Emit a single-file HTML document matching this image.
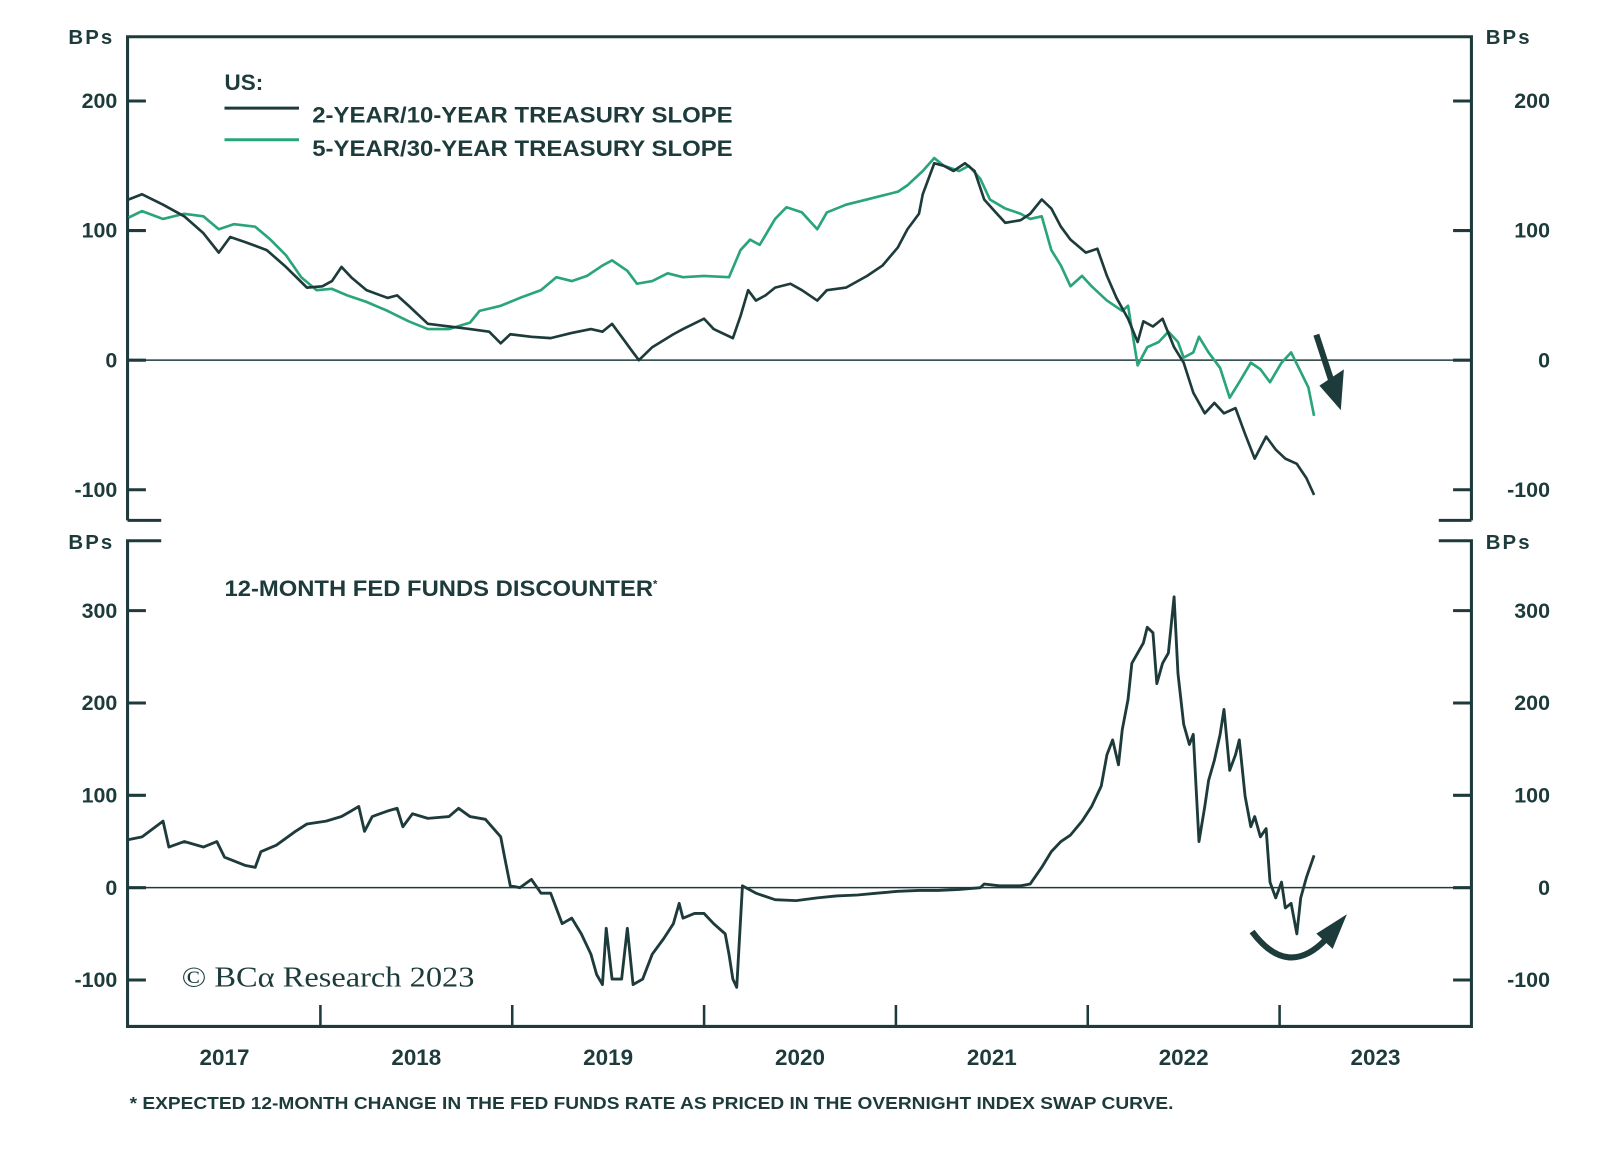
<!DOCTYPE html>
<html><head><meta charset="utf-8"><style>
html,body{margin:0;padding:0;background:#fff;}
svg{display:block;font-family:"Liberation Sans",sans-serif;}
</style></head><body>
<svg id="chart" width="1600" height="1156" viewBox="0 0 1568 1133" preserveAspectRatio="none" xmlns="http://www.w3.org/2000/svg">
<g id="frame" stroke="#1e3b3b" stroke-width="3" fill="none">
<path d="M125,510 V36 H1442 V510" />
<path d="M125,510 H158 M1410,510 H1442" />
<path d="M158,530 H125 V1006 H1442 V530 H1410" />
</g>
<g id="texts" fill="#1e3b3b" font-weight="bold" font-size="20">
<text x="67" y="43" textLength="43">BPs</text>
<text x="1456" y="43" textLength="43">BPs</text>
<text x="67" y="538" textLength="43">BPs</text>
<text x="1456" y="538" textLength="43">BPs</text>
<text x="220" y="88" font-size="22" textLength="38">US:</text>
<line x1="220" y1="106" x2="293" y2="106" stroke="#1e3b3b" stroke-width="3"/>
<text x="306" y="120" font-size="22" textLength="412" lengthAdjust="spacingAndGlyphs">2-YEAR/10-YEAR TREASURY SLOPE</text>
<line x1="220" y1="137" x2="293" y2="137" stroke="#2aa57a" stroke-width="3"/>
<text x="306" y="153" font-size="22" textLength="412" lengthAdjust="spacingAndGlyphs">5-YEAR/30-YEAR TREASURY SLOPE</text>
<text x="220" y="584" font-size="22"><tspan textLength="420" lengthAdjust="spacingAndGlyphs">12-MONTH FED FUNDS DISCOUNTER</tspan><tspan font-size="11" dy="-8">*</tspan></text>
<text x="178" y="967" font-family="Liberation Serif" font-weight="normal" font-size="28" textLength="287" lengthAdjust="spacingAndGlyphs">© BCα Research 2023</text>
<text x="127" y="1087" font-size="17" textLength="1023" lengthAdjust="spacingAndGlyphs">* EXPECTED 12-MONTH CHANGE IN THE FED FUNDS RATE AS PRICED IN THE OVERNIGHT INDEX SWAP CURVE.</text>
</g>
<g id="axes"></g>
<g id="series"></g>
<g id="annotations" fill="#1e3b3b" stroke="#1e3b3b">
<path d="M1290,328 L1305,374" stroke-width="6" fill="none"/>
<path d="M1293,378 L1314,402 L1317,362 Z" stroke="none"/>
<path d="M1227,913 Q1262,960 1300,920" stroke-width="6" fill="none"/>
<path d="M1290,915 L1320,896 L1306,930 Z" stroke="none"/>
</g>
</svg>
<script>
const dates2s10s=[0,.07,.18,.29,.39,.47,.53,.61,.72,.82,.93,1.01,1.06,1.11,1.16,1.24,1.35,1.40,1.46,1.56,1.67,1.78,1.88,1.94,1.99,2.10,2.20,2.31,2.41,2.47,2.52,2.57,2.63,2.66,2.73,2.84,2.89,3.00,3.05,3.15,3.19,3.23,3.27,3.32,3.37,3.45,3.51,3.59,3.64,3.74,3.85,3.93,4.01,4.06,4.12,4.14,4.20,4.25,4.30,4.36,4.41,4.46,4.52,4.57,4.65,4.70,4.76,4.81,4.86,4.91,4.99,5.05,5.10,5.15,5.21,5.26,5.29,5.34,5.39,5.45,5.50,5.55,5.61,5.66,5.71,5.77,5.82,5.87,5.93,5.98,6.03,6.09,6.14,6.18];
const values2s10s=[124,128,120,111,98,83,95,91,85,72,56,57,61,72,64,54,48,50,42,28,26,24,22,13,20,18,17,21,24,22,28,18,6,0,10,20,24,32,24,17,34,54,46,50,56,59,54,46,54,56,65,73,87,101,113,128,152,150,146,152,146,124,114,106,108,113,124,117,103,93,83,86,65,48,32,14,30,26,32,10,-2,-25,-41,-33,-41,-37,-57,-76,-59,-69,-76,-80,-91,-104];
const dates5s30s=[0,.07,.18,.29,.39,.47,.55,.66,.74,.82,.90,.98,1.06,1.14,1.24,1.35,1.46,1.56,1.67,1.78,1.83,1.94,2.04,2.15,2.23,2.31,2.39,2.47,2.52,2.60,2.65,2.73,2.81,2.89,3.00,3.13,3.19,3.24,3.29,3.37,3.43,3.51,3.59,3.64,3.74,3.85,3.93,4.01,4.06,4.14,4.20,4.25,4.33,4.38,4.44,4.49,4.57,4.65,4.70,4.76,4.81,4.86,4.91,4.97,5.02,5.10,5.18,5.21,5.26,5.31,5.37,5.42,5.47,5.50,5.55,5.58,5.63,5.69,5.74,5.79,5.85,5.90,5.95,6.01,6.06,6.11,6.15,6.18];
const values5s30s=[110,115,109,113,111,101,105,103,93,81,64,54,55,50,45,38,30,24,24,29,38,42,48,54,64,61,65,73,77,69,59,61,67,64,65,64,85,93,89,109,118,114,101,114,120,124,127,130,135,146,156,150,146,150,140,124,117,113,109,111,85,73,57,65,57,46,38,42,-4,10,14,22,14,2,6,18,6,-6,-29,-17,-2,-7,-17,-2,6,-9,-21,-43];
const datesFed=[0,.07,.18,.21,.29,.39,.46,.50,.61,.66,.69,.77,.87,.93,1.03,1.11,1.16,1.20,1.23,1.27,1.35,1.40,1.43,1.48,1.56,1.67,1.72,1.78,1.86,1.94,1.96,1.99,2.04,2.10,2.15,2.20,2.26,2.31,2.36,2.41,2.44,2.47,2.49,2.52,2.57,2.60,2.63,2.68,2.73,2.79,2.84,2.87,2.89,2.95,3.00,3.05,3.11,3.13,3.15,3.17,3.20,3.27,3.37,3.48,3.59,3.69,3.80,3.90,4.01,4.12,4.22,4.33,4.44,4.46,4.54,4.65,4.70,4.76,4.81,4.86,4.91,4.97,5.02,5.07,5.10,5.13,5.16,5.18,5.21,5.23,5.26,5.29,5.31,5.34,5.36,5.39,5.42,5.45,5.47,5.50,5.53,5.55,5.58,5.61,5.63,5.66,5.69,5.71,5.74,5.77,5.79,5.82,5.85,5.87,5.90,5.93,5.95,5.98,6.01,6.03,6.06,6.09,6.11,6.14,6.18];
const valuesFed=[52,55,72,44,50,44,50,33,24,22,39,46,61,69,72,77,83,88,61,77,83,86,66,80,75,77,86,77,74,55,33,2,0,9,-6,-6,-39,-33,-50,-72,-94,-105,-44,-99,-99,-44,-105,-99,-72,-55,-39,-17,-33,-28,-28,-39,-50,-72,-99,-108,2,-6,-13,-14,-11,-9,-8,-6,-4,-3,-3,-2,0,4,2,2,4,22,39,50,57,72,88,110,144,160,133,171,204,243,254,265,282,276,221,243,254,315,232,177,155,166,50,88,116,138,166,193,127,144,160,99,66,77,55,64,6,-11,6,-22,-17,-50,-11,11,35];
const topTicks=[200,100,0,-100];
const bottomTicks=[300,200,100,0,-100];
const yearLabels=["2017","2018","2019","2020","2021","2022","2023"];

const NS="http://www.w3.org/2000/svg";
const X0=126,YEARW=188;
function xScale(d){return X0+d*YEARW;}
function yTop(v){return 353-v*1.27;}
function yBot(v){return 870-v*0.905;}
function mk(tag,attrs,parent){const e=document.createElementNS(NS,tag);for(const k in attrs)e.setAttribute(k,attrs[k]);parent.appendChild(e);return e;}
const axes=document.getElementById('axes'),series=document.getElementById('series');
const C="#1e3b3b";
topTicks.forEach(v=>{
  const y=yTop(v);
  const l=mk('path',{d:`M125,${y}H143M1424,${y}H1442`,stroke:C,'stroke-width':3},axes);
  
  
  const t1=mk('text',{x:115,y:y+7,'text-anchor':'end',fill:C,'font-weight':'bold','font-size':21},axes);t1.textContent=v;
  
  
  const t2=mk('text',{x:1519,y:y+7,'text-anchor':'end',fill:C,'font-weight':'bold','font-size':21},axes);t2.textContent=v;
  
  
});
bottomTicks.forEach(v=>{
  const y=yBot(v);
  const l=mk('path',{d:`M125,${y}H143M1424,${y}H1442`,stroke:C,'stroke-width':3},axes);
  
  
  const t1=mk('text',{x:115,y:y+7,'text-anchor':'end',fill:C,'font-weight':'bold','font-size':21},axes);t1.textContent=v;
  
  
  const t2=mk('text',{x:1519,y:y+7,'text-anchor':'end',fill:C,'font-weight':'bold','font-size':21},axes);t2.textContent=v;
  
  
});
const z1=mk('line',{x1:125,x2:1442,y1:yTop(0),y2:yTop(0),stroke:C,'stroke-width':1.5},axes);


const z2=mk('line',{x1:125,x2:1442,y1:yBot(0),y2:yBot(0),stroke:C,'stroke-width':1.5},axes);


yearLabels.forEach((lab,i)=>{
  if(i>0){const t=mk('line',{x1:xScale(i),x2:xScale(i),y1:1006,y2:985,stroke:C,'stroke-width':2.5},axes);
  
  }
  const tx=mk('text',{x:xScale(i+0.5),y:1044,'text-anchor':'middle',fill:C,'font-weight':'bold','font-size':22},axes);tx.textContent=lab;
  
  
});
function line(dates,vals,ys,color,w,name){
  const d=dates.map((t,i)=>(i?'L':'M')+xScale(t).toFixed(1)+','+ys(vals[i]).toFixed(1)).join('');
  const p=mk('path',{d:d,fill:'none',stroke:color,'stroke-width':w,'stroke-linejoin':'round'},series);
  
  
}
line(dates5s30s,values5s30s,yTop,'#2aa57a',2.6,'line-5s30s-slope');
line(dates2s10s,values2s10s,yTop,C,2.6,'line-2s10s-slope');
line(datesFed,valuesFed,yBot,C,2.8,'line-fed-funds-discounter');
</script>
</body></html>
